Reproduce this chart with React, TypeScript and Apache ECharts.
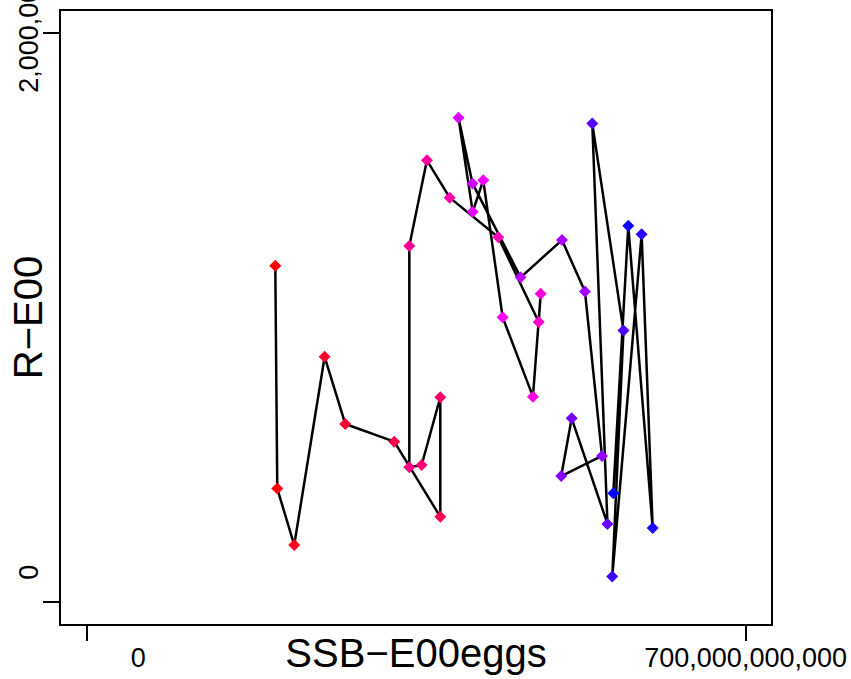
import React, { useEffect, useRef } from "react";
import * as echarts from "echarts";

// Stock–recruitment time series (points in time order)
const ssb: number[] = [
  200.6e9, 202.7e9, 220.7e9, 253.0e9, 274.9e9, 326.9e9, 375.8e9, 375.8e9, 356.0e9,
  342.9e9, 342.9e9, 361.6e9, 385.8e9, 437.4e9, 480.3e9, 482.4e9, 474.2e9, 442.0e9,
  421.4e9, 410.2e9, 395.1e9, 410.0e9, 461.1e9, 505.0e9, 529.4e9, 547.5e9, 504.2e9,
  515.3e9, 553.3e9, 537.2e9, 570.3e9, 558.4e9, 589.6e9, 601.3e9, 575.4e9, 559.5e9,
];
const recruitment: number[] = [
  1182e3, 399e3, 201e3, 862e3, 626e3, 564e3, 300e3, 720e3, 482e3,
  474e3, 1251e3, 1552e3, 1421e3, 1282e3, 984e3, 1083e3, 722e3, 1001e3,
  1482e3, 1371e3, 1702e3, 1471e3, 1141e3, 1272e3, 1091e3, 514e3, 443e3,
  646e3, 275e3, 1681e3, 954e3, 90e3, 1292e3, 261e3, 1322e3, 383e3,
];

const xTicks = [0, 700e9];
const xTickLabels = ["0", "700,000,000,000"];
const yTicks = [0, 2e6];
const yTickLabels = ["0", "2,000,000"];
const xTitle = "SSB\u2212E00eggs";
const yTitle = "R\u2212E00";

const FONT = "'Liberation Sans', Arial, Helvetica, sans-serif";

// red -> magenta -> blue ramp
function ramp(n: number): string[] {
  const out: string[] = [];
  for (let i = 0; i < n; i++) {
    const t = n > 1 ? i / (n - 1) : 0;
    let r = 255, b = 255;
    if (t <= 0.5) b = Math.round(510 * t);
    else r = Math.round(255 * (2 - 2 * t));
    const h = (v: number) => v.toString(16).padStart(2, "0");
    out.push("#" + h(r) + "00" + h(b));
  }
  return out;
}

export default function App() {
  const ref = useRef<HTMLDivElement>(null);
  useEffect(() => {
    if (!ref.current) return;
    const chart = echarts.init(ref.current, undefined, { renderer: "svg" });
    const colors = ramp(ssb.length);
    const xPad = (xTicks[1] - xTicks[0]) * 0.04;
    const yPad = (yTicks[1] - yTicks[0]) * 0.04;
    const option = {
      animation: false,
      backgroundColor: "#ffffff",
      grid: {
        left: 60,
        top: 10,
        width: 712,
        height: 615,
        containLabel: false,
        outerBoundsMode: "none",
        show: true,
        borderColor: "#000",
        borderWidth: 2,
        backgroundColor: "transparent",
      },
      xAxis: {
        type: "value",
        min: xTicks[0] - xPad,
        max: xTicks[1] + xPad,
        splitLine: { show: false },
        axisLine: { show: false, onZero: false },
        axisTick: {
          show: true,
          customValues: xTicks,
          length: 16,
          lineStyle: { color: "#000", width: 2 },
        },
        axisLabel: {
          customValues: xTicks,
          margin: 19,
          color: "#000",
          fontSize: 27,
          fontFamily: FONT,
          formatter: (v: number) => {
            const i = xTicks.indexOf(v);
            if (i === 0) return "{s|" + xTickLabels[0] + "}";
            return i >= 0 ? xTickLabels[i] : "";
          },
          rich: {
            s: { padding: [0, 0, 0, 104], fontSize: 27, fontFamily: FONT, color: "#000" },
          },
        },
        name: xTitle,
        nameLocation: "middle",
        nameGap: 8,
        nameMoveOverlap: false,
        nameTextStyle: { fontSize: 40, color: "#000", fontFamily: FONT },
      },
      yAxis: {
        type: "value",
        min: yTicks[0] - yPad,
        max: yTicks[1] + yPad,
        splitLine: { show: false },
        axisLine: { show: false, onZero: false },
        axisTick: {
          show: true,
          customValues: yTicks,
          length: 17,
          lineStyle: { color: "#000", width: 2 },
        },
        axisLabel: {
          customValues: yTicks,
          rotate: 90,
          margin: 18,
          color: "#000",
          fontSize: 27,
          fontFamily: FONT,
          formatter: (v: number) => {
            const i = yTicks.indexOf(v);
            if (i === 0) return "{s|" + yTickLabels[0] + "}";
            return i >= 0 ? yTickLabels[i] : "";
          },
          rich: {
            s: { padding: [0, 0, 0, 60], fontSize: 27, fontFamily: FONT, color: "#000" },
          },
        },
        name: yTitle,
        nameLocation: "middle",
        nameGap: 12,
        nameMoveOverlap: false,
        nameTextStyle: { fontSize: 40, color: "#000", fontFamily: FONT },
      },
      series: [
        {
          type: "line",
          data: ssb.map((x, i) => ({
            value: [x, recruitment[i]],
            itemStyle: { color: colors[i] },
          })),
          lineStyle: { color: "#000", width: 2.5 },
          symbol: "diamond",
          symbolSize: 12,
          showSymbol: true,
          itemStyle: { borderWidth: 0 },
          emphasis: { disabled: true },
          silent: true,
        },
      ],
    };
    chart.setOption(option as any);
    return () => chart.dispose();
  }, []);
  return (
    <div
      ref={ref}
      style={{ position: "absolute", left: 0, top: 0, width: 851, height: 679, background: "#fff" }}
    />
  );
}
